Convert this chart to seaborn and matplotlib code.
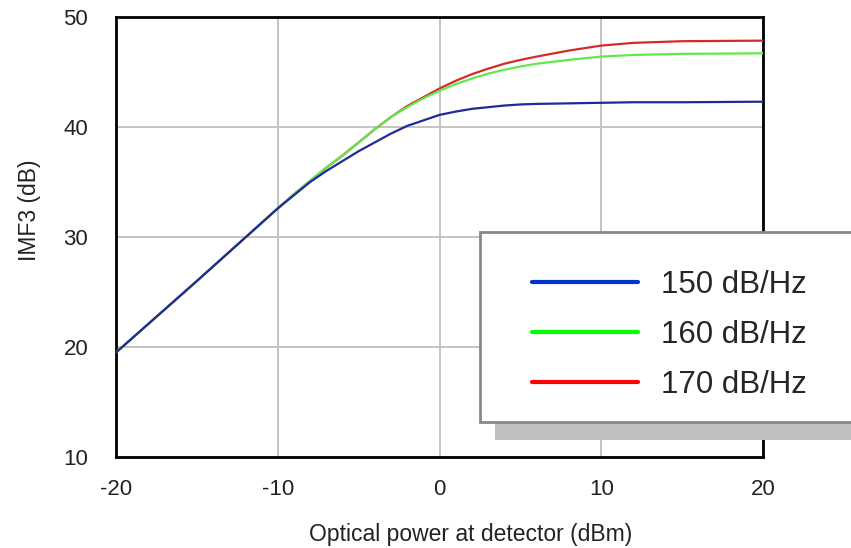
import numpy as np
import pandas as pd
import matplotlib
matplotlib.use('Agg')
import matplotlib.pyplot as plt
import seaborn as sns
from matplotlib.patches import Rectangle
from matplotlib.lines import Line2D

# optical power (dBm)
power = [-20, -15, -10, -9, -8, -7, -6, -5, -4, -3, -2, -1, 0, 1, 2, 3, 4, 5, 6, 8, 10, 12, 15, 20]
imf3_150 = [19.5, 26.0, 32.6, 33.8, 35.0, 36.0, 36.9, 37.8, 38.6, 39.4, 40.1, 40.6, 41.1, 41.4, 41.65,
            41.8, 41.95, 42.05, 42.1, 42.15, 42.2, 42.25, 42.25, 42.3]
imf3_160 = [19.5, 26.0, 32.6, 33.9, 35.1, 36.3, 37.4, 38.6, 39.8, 40.9, 41.8, 42.6, 43.3, 43.9, 44.4,
            44.85, 45.2, 45.5, 45.75, 46.1, 46.4, 46.55, 46.65, 46.7]
imf3_170 = [19.5, 26.0, 32.6, 33.9, 35.1, 36.3, 37.4, 38.6, 39.8, 40.9, 41.9, 42.7, 43.5, 44.2, 44.8,
            45.3, 45.75, 46.1, 46.4, 46.95, 47.4, 47.65, 47.8, 47.85]
labels = ['150 dB/Hz', '160 dB/Hz', '170 dB/Hz']

df = pd.DataFrame({
    'power': power * 3,
    'imf3': imf3_150 + imf3_160 + imf3_170,
    'rin': [labels[0]] * len(power) + [labels[1]] * len(power) + [labels[2]] * len(power),
})

sns.set_style('white')
plt.rcParams['font.family'] = ['Liberation Sans', 'DejaVu Sans']
plt.rcParams['axes.unicode_minus'] = False

fig = plt.figure(figsize=(8.51, 5.48), dpi=100)
ax = fig.add_axes([116/851, 1-457/548, (763-116)/851, (457-17)/548])

line_cols = {labels[0]: '#1f2a9a', labels[1]: '#62e84c', labels[2]: '#d42a2a'}
leg_cols = {labels[0]: '#0033cc', labels[1]: '#00ff00', labels[2]: '#ff0000'}
zord = {labels[0]: 5, labels[1]: 4, labels[2]: 3}
for lab in [labels[2], labels[1], labels[0]]:
    sub = df[df['rin'] == lab]
    sns.lineplot(data=sub, x='power', y='imf3', color=line_cols[lab], linewidth=1.6,
                 ax=ax, zorder=zord[lab], label=lab, legend=False)

ax.set_xlim(-20, 20)
ax.set_ylim(10, 50)
ax.set_xticks([-20, -10, 0, 10, 20])
ax.set_yticks([10, 20, 30, 40, 50])
ax.grid(True, color='#c4c4c4', linewidth=1.4)
ax.set_axisbelow(True)
for s in ax.spines.values():
    s.set_color('black')
    s.set_linewidth(2)
    s.set_visible(True)
ax.tick_params(axis='both', length=0, labelsize=16, colors='#222222')
ax.tick_params(axis='y', pad=20)
ax.tick_params(axis='x', pad=16)
ax.set_xlabel('Optical power at detector (dBm)', fontsize=16.5, color='#222222')
ax.set_ylabel('IMF3 (dB)', fontsize=16.5, color='#222222', labelpad=16)
ax.xaxis.set_label_coords(0.548, -0.15)
ax.yaxis.label.set_y(0.561)

# legend box with shadow
fig.patches.append(Rectangle((495/851, 1-440/548), 400/851, (440-250)/548, transform=fig.transFigure,
                             facecolor='#c0c0c0', edgecolor='none', zorder=8))
fig.patches.append(Rectangle((480/851, 1-422/548), 400/851, (422-232)/548, transform=fig.transFigure,
                             facecolor='white', edgecolor='#888888', linewidth=2, zorder=9))

handles = [Line2D([], [], color=leg_cols[l], linewidth=3) for l in labels]
leg = fig.legend(handles, labels, loc='upper left', bbox_to_anchor=(532/851, 1-270/548),
                 frameon=False, fontsize=22.5, handlelength=3.39, handletextpad=0.74,
                 labelspacing=0.64, borderpad=0, borderaxespad=0)
leg.set_zorder(10)

fig.savefig('out.png', dpi=100)
